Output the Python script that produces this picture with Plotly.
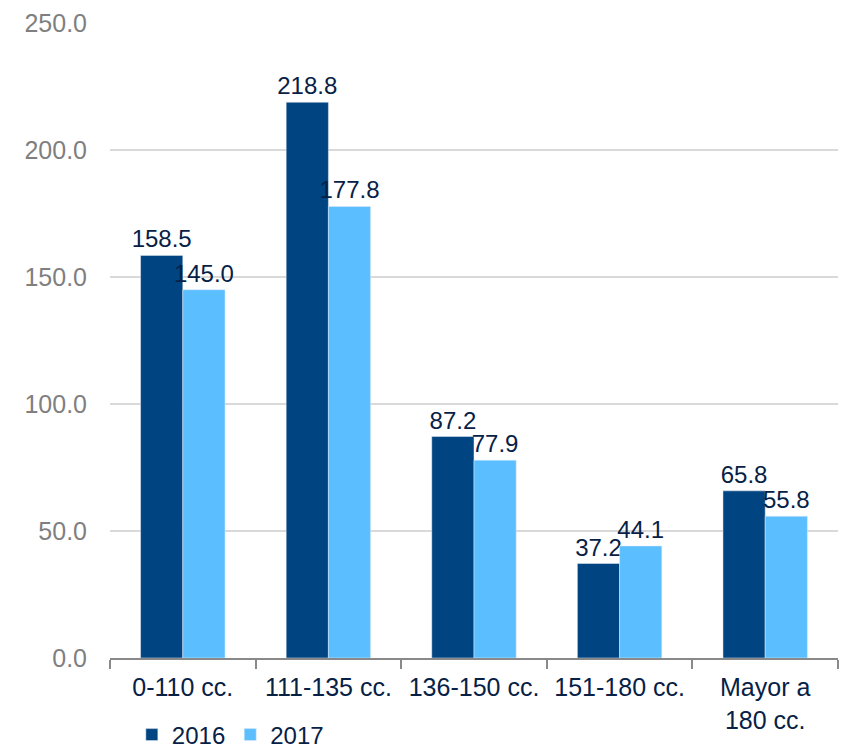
import plotly.graph_objects as go

categories = ["0-110 cc.", "111-135 cc.", "136-150 cc.", "151-180 cc.", "Mayor a<br>180 cc."]
values_2016 = [158.5, 218.8, 87.2, 37.2, 65.8]
values_2017 = [145.0, 177.8, 77.9, 44.1, 55.8]
y_ticks = [0, 50, 100, 150, 200, 250]

C2016 = "#004481"
C2017 = "#5BBEFF"
TXT = "#072146"
FONT = "Liberation Sans, Arial, sans-serif"

fig = go.Figure()
for name, vals, col in [("2016", values_2016, C2016), ("2017", values_2017, C2017)]:
    fig.add_trace(go.Bar(name=name, x=categories, y=vals, marker_color=col,
                         text=[f"{v:.1f}" for v in vals], textposition="outside",
                         constraintext="none",
                         textfont=dict(color=TXT, size=24, family=FONT), cliponaxis=False))

fig.update_layout(
    width=842, height=750,
    margin=dict(l=110, r=4, t=23, b=92, autoexpand=False),
    paper_bgcolor="white", plot_bgcolor="white",
    barmode="group", bargap=0.42, bargroupgap=0,
    font=dict(family=FONT, color=TXT, size=24),
    showlegend=True,
    legend=dict(orientation="h", x=0.03, xanchor="left", xref="paper",
                y=0.05, yanchor="top", yref="container",
                font=dict(size=24, color=TXT), traceorder="normal",
                itemwidth=30, tracegroupgap=0),
)
fig.update_yaxes(range=[0, 250], tickvals=y_ticks, tickformat=".1f",
                 showgrid=True, gridcolor="#D9D9D9", gridwidth=1.5,
                 showline=False, zeroline=False, ticks="", automargin=False,
                 tickfont=dict(size=25, color="#7F7F7F"), ticklabelstandoff=22)
fig.update_xaxes(showline=True, linecolor="#898989", linewidth=2,
                 ticks="outside", ticklen=9, tickwidth=2, tickcolor="#898989",
                 tickson="boundaries", tickfont=dict(size=25, color=TXT),
                 ticklabelstandoff=6, automargin=False)

fig.write_html("out.html")
